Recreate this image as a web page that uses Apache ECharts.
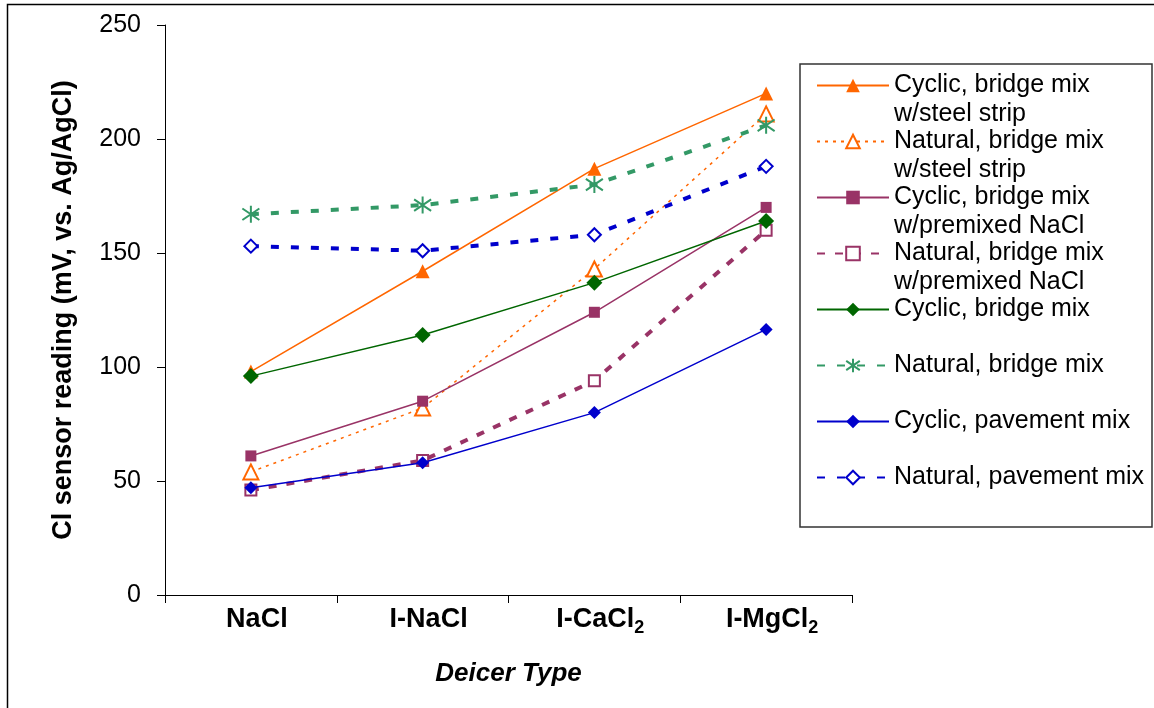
<!DOCTYPE html>
<html>
<head>
<meta charset="utf-8">
<title>Cl sensor reading by deicer type</title>
<script src="https://cdn.jsdelivr.net/npm/echarts@6/dist/echarts.min.js"></script>
<style>
  html, body { margin: 0; padding: 0; background: #fff; }
  #main { width: 1154px; height: 708px; }
</style>
</head>
<body>
<div id="main"></div>
<script>
// x categories and y ticks
var deicers = ['NaCl', 'I-NaCl', 'I-CaCl2', 'I-MgCl2'];
var yTicks = [0, 50, 100, 150, 200, 250];

// readings (mV vs. Ag/AgCl), one array per curve
var cyclicSteel = [98, 142, 187, 220];
var naturalSteel = [54, 82, 143, 211];
var cyclicPremix = [61, 85, 124, 170];
var naturalPremix = [46, 59, 94, 160];
var cyclicBridge = [96, 114, 137, 164];
var naturalBridge = [167, 171, 180, 206];
var cyclicPavement = [47, 58, 80, 116.5];
var naturalPavement = [153, 151, 158, 188];

var seriesNames = [
  'Cyclic, bridge mix\nw/steel strip',
  'Natural, bridge mix\nw/steel strip',
  'Cyclic, bridge mix\nw/premixed NaCl',
  'Natural, bridge mix\nw/premixed NaCl',
  'Cyclic, bridge mix',
  'Natural, bridge mix',
  'Cyclic, pavement mix',
  'Natural, pavement mix'
];

var font = '"Liberation Sans", Arial, sans-serif';
var asterisk = 'path://M5,0L5,10M0.6,1.6L9.4,8.4M0.6,8.4L9.4,1.6';

// style of each curve: colour, dash, width, marker
function curve(idx, data, color, dash, width, symbol, size, border) {
  return {
    name: seriesNames[idx],
    type: 'line',
    data: data,
    symbol: symbol,
    symbolSize: size,
    showAllSymbol: true,
    lineStyle: { color: color, width: width, type: dash },
    itemStyle: { color: color, borderColor: color, borderWidth: border },
    z: 2 + idx
  };
}

var series = [
  curve(0, cyclicSteel, '#FF6600', 'solid', 1.5, 'triangle', 14, 0),
  curve(1, naturalSteel, '#FF6600', [3, 5], 1.5, 'emptyTriangle', 15, 1.5),
  curve(2, cyclicPremix, '#993366', 'solid', 1.5, 'rect', 11, 0),
  curve(3, naturalPremix, '#993366', [8, 10], 4, 'emptyRect', 11, 1.5),
  curve(4, cyclicBridge, '#006600', 'solid', 1.5, 'diamond', 16, 0),
  curve(5, naturalBridge, '#339966', [8, 12], 4, asterisk, 17, 2),
  curve(6, cyclicPavement, '#0000CC', 'solid', 1.5, 'diamond', 13, 0),
  curve(7, naturalPavement, '#0000CC', [8, 12], 4, 'emptyDiamond', 13, 1.5)
];

var chart = echarts.init(document.getElementById('main'));
chart.setOption({
  animation: false,
  backgroundColor: '#fff',
  textStyle: { fontFamily: font },
  grid: { left: 165, right: 302, top: 25, bottom: 113, containLabel: false },
  legend: {
    orient: 'vertical',
    left: 816,
    top: 42,
    padding: 0,
    itemWidth: 72,
    itemHeight: 17,
    itemGap: -31,
    selectedMode: false,
    data: seriesNames,
    // pad every entry to three lines so the marker sits on the first text line
    formatter: function (name) {
      return '\n' + (name.indexOf('\n') < 0 ? name + '\n' : name);
    },
    textStyle: { fontFamily: font, fontSize: 25, color: '#000', lineHeight: 29 }
  },
  xAxis: {
    type: 'category',
    data: deicers,
    boundaryGap: true,
    name: 'Deicer Type',
    nameLocation: 'middle',
    nameGap: 66,
    nameTextStyle: { fontFamily: font, fontSize: 26, fontWeight: 'bold', fontStyle: 'italic', color: '#000' },
    axisLine: { lineStyle: { color: '#000', width: 1 } },
    axisTick: { show: true, inside: false, length: 8, alignWithLabel: false, lineStyle: { color: '#000' } },
    splitLine: { show: false },
    axisLabel: {
      interval: 0,
      margin: 8,
      fontFamily: font,
      fontSize: 27,
      fontWeight: 'bold',
      color: '#000',
      lineHeight: 34,
      padding: [0, 0, 0, 12],
      formatter: function (v) {
        return v.replace(/Cl2$/, 'Cl{sub|2}');
      },
      rich: {
        sub: { fontFamily: font, fontSize: 18, fontWeight: 'bold', color: '#000', lineHeight: 18, verticalAlign: 'bottom' }
      }
    }
  },
  yAxis: {
    type: 'value',
    min: yTicks[0],
    max: yTicks[yTicks.length - 1],
    interval: yTicks[1] - yTicks[0],
    name: 'Cl sensor reading (mV, vs. Ag/AgCl)',
    nameLocation: 'middle',
    nameGap: 88,
    nameTextStyle: { fontFamily: font, fontSize: 27, fontWeight: 'bold', color: '#000' },
    axisLine: { show: true, lineStyle: { color: '#000', width: 1 } },
    axisTick: { show: true, inside: false, length: 8, lineStyle: { color: '#000' } },
    splitLine: { show: false },
    axisLabel: { margin: 24, fontFamily: font, fontSize: 25, color: '#000' }
  },
  graphic: [
    {
      type: 'rect',
      silent: true,
      shape: { x: 7.5, y: 4.5, width: 1160, height: 720 },
      style: { fill: 'none', stroke: '#000', lineWidth: 1.5 }
    },
    {
      type: 'rect',
      silent: true,
      shape: { x: 800, y: 64, width: 352, height: 463 },
      style: { fill: 'none', stroke: '#333', lineWidth: 1.5 }
    }
  ],
  series: series
});
</script>
</body>
</html>
